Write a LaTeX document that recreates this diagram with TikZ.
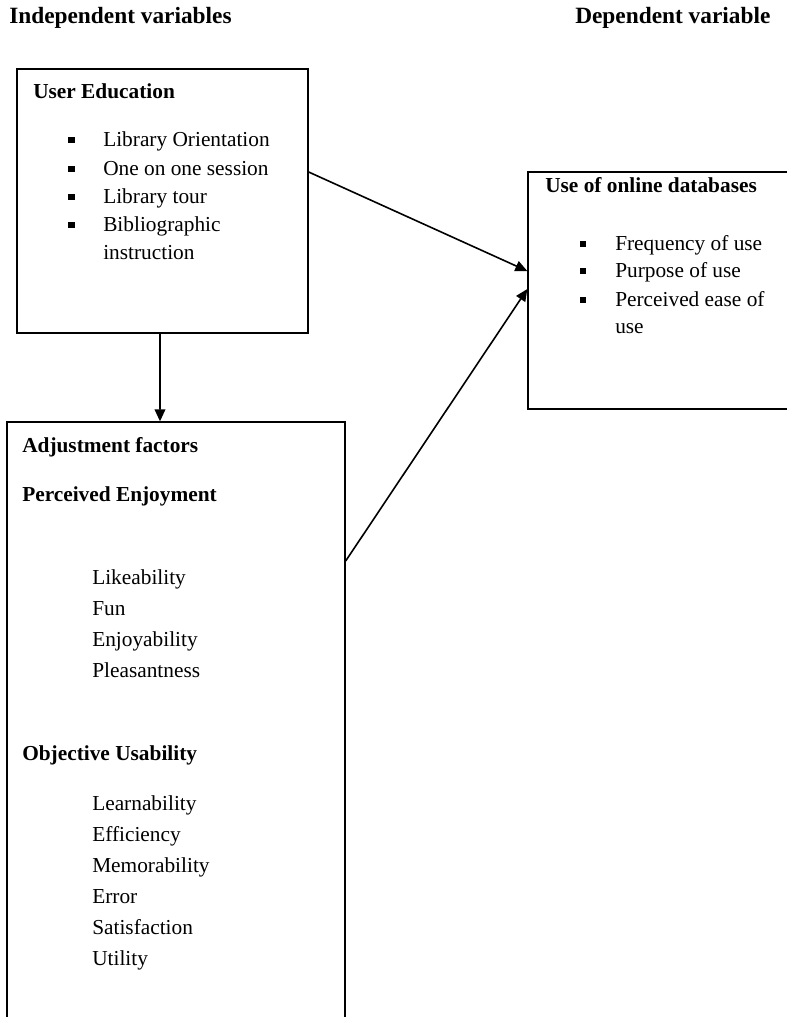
\documentclass[tikz,border=0pt]{standalone}
\usepackage{fontspec}
\setmainfont{Liberation Serif}
\usetikzlibrary{arrows.meta}
\begin{document}
\begin{tikzpicture}[x=0.75pt,y=-0.75pt,
  box/.style={draw=black,line width=1pt,rectangle,inner sep=0pt},
  ttl/.style={anchor=base west,inner sep=0pt,font=\fontsize{17.5pt}{21pt}\selectfont\bfseries},
  hd/.style={anchor=base west,inner sep=0pt,font=\fontsize{16pt}{19pt}\selectfont\bfseries},
  txt/.style={anchor=base west,inner sep=0pt,font=\fontsize{16pt}{19pt}\selectfont},
  bul/.style={fill=black,rectangle,inner sep=0pt,minimum size=4.8pt},
  arr/.style={line width=1.2pt,-{Triangle[length=9pt,width=8pt]}}]
\useasboundingbox (0,0) rectangle (787,1017);
\clip (0,0) rectangle (787,1017);
% titles
\node[ttl] (tind) at (9,23) {Independent variables};
\node[ttl] (tdep) at (575,23) {Dependent variable};
% boxes
\node[box,minimum width=218.25pt,minimum height=198pt] (ue) at (162.5,201) {};
\node[box,minimum width=204pt,minimum height=177.75pt] (ud) at (664,290.5) {};
\node[box,minimum width=253.5pt,minimum height=508.5pt] (af) at (176,761) {};
% user education
\node[hd] (ueh) at (33,98) {User Education};
\node[bul] (b1) at (71.5,140) {};
\node[bul] (b2) at (71.5,169) {};
\node[bul] (b3) at (71.5,197) {};
\node[bul] (b4) at (71.5,225) {};
\node[txt] (u1) at (103,146) {Library Orientation};
\node[txt] (u2) at (103,175) {One on one session};
\node[txt] (u3) at (103,203) {Library tour};
\node[txt] (u4) at (103,231) {Bibliographic};
\node[txt] (u4b) at (103,259) {instruction};
% use of online databases
\node[hd] (udh) at (545,192) {Use of online databases};
\node[bul] (c1) at (583,244) {};
\node[bul] (c2) at (583,271) {};
\node[bul] (c3) at (583,300) {};
\node[txt] (d1) at (615,250) {Frequency of use};
\node[txt] (d2) at (615,277) {Purpose of use};
\node[txt] (d3) at (615,306) {Perceived ease of};
\node[txt] (d3b) at (615,333) {use};
% adjustment factors
\node[hd] (afh) at (22,452) {Adjustment factors};
\node[hd] (peh) at (22,501) {Perceived Enjoyment};
\node[txt] (p1) at (92,584) {Likeability};
\node[txt] (p2) at (92,615) {Fun};
\node[txt] (p3) at (92,646) {Enjoyability};
\node[txt] (p4) at (92,677) {Pleasantness};
\node[hd] (ouh) at (22,760) {Objective Usability};
\node[txt] (o1) at (92,810) {Learnability};
\node[txt] (o2) at (92,841) {Efficiency};
\node[txt] (o3) at (92,872) {Memorability};
\node[txt] (o4) at (92,903) {Error};
\node[txt] (o5) at (92,934) {Satisfaction};
\node[txt] (o6) at (92,965) {Utility};
% connectors
\draw[arr] ([yshift=21.75pt]ue.east) -- ([yshift=14.6pt]ud.west);
\draw[arr] ([yshift=150pt]af.east) -- ([yshift=1.1pt]ud.west);
\draw[arr] ([xshift=-1.9pt]ue.south) -- ([xshift=-12pt]af.north);
\end{tikzpicture}
\end{document}
